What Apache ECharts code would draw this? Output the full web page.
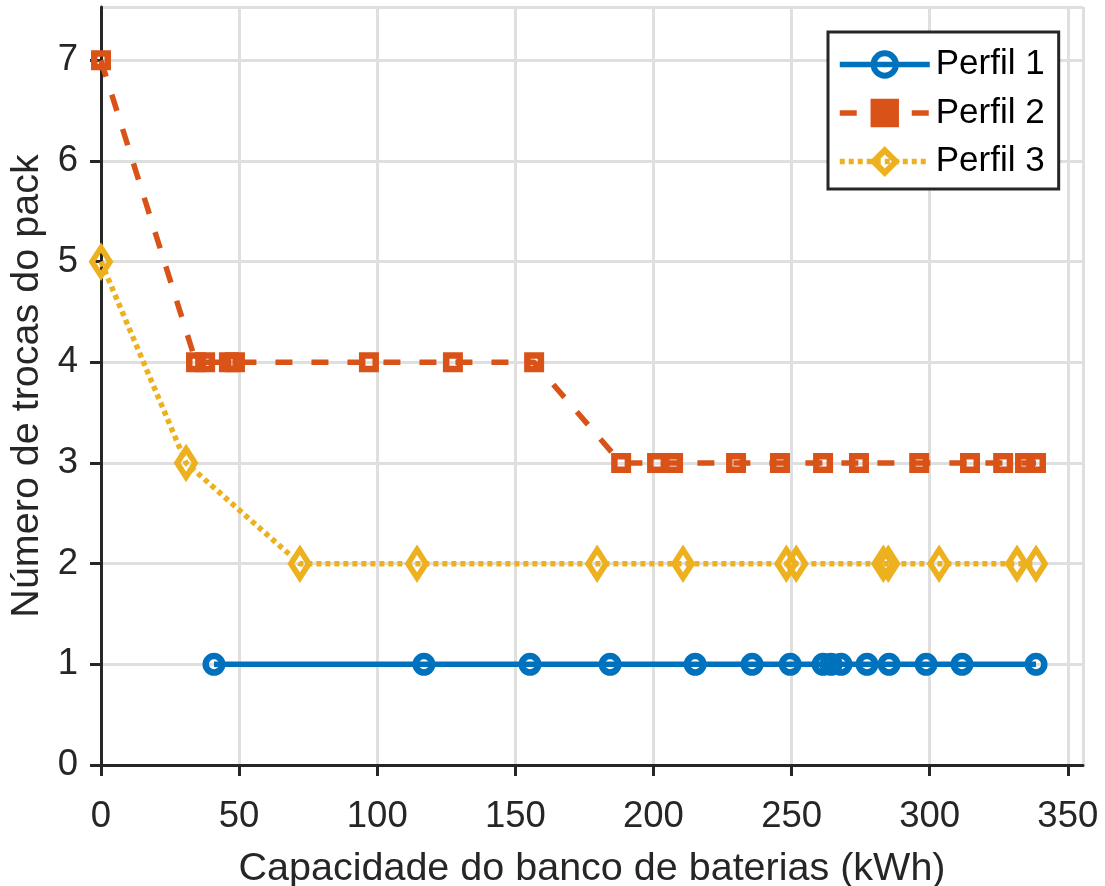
<!DOCTYPE html>
<html>
<head>
<meta charset="utf-8">
<script src="https://cdn.jsdelivr.net/npm/echarts@6/dist/echarts.min.js"></script>
<style>
  html, body { margin: 0; padding: 0; background: #fff; }
  #chart { width: 1105px; height: 886px; }
</style>
</head>
<body>
<div id="chart"></div>
<script>
// Battery bank capacity (kWh) and number of pack replacements per profile
const perfil1X = [40.9, 116.9, 155.3, 184.3, 215.1, 235.7, 249.5, 261.4, 264.3, 267.9, 277.3, 285.3, 298.7, 311.7, 338.5];
const perfil1Y = [1, 1, 1, 1, 1, 1, 1, 1, 1, 1, 1, 1, 1, 1, 1];

const perfil2X = [0, 34.4, 37.7, 46.3, 48.5, 97.0, 127.4, 156.8, 188.3, 201.3, 207.1, 229.9, 245.8, 261.4, 274.4, 296.2, 314.6, 326.6, 334.5, 338.5];
const perfil2Y = [7, 4, 4, 4, 4, 4, 4, 4, 3, 3, 3, 3, 3, 3, 3, 3, 3, 3, 3, 3];

const perfil3X = [0, 30.8, 72.0, 114.4, 179.6, 210.7, 248.1, 251.7, 283.2, 285.0, 303.4, 331.6, 338.5];
const perfil3Y = [5, 3, 2, 2, 2, 2, 2, 2, 2, 2, 2, 2, 2];

const seriesNames = ['Perfil 1', 'Perfil 2', 'Perfil 3'];
const xTicks = [0, 50, 100, 150, 200, 250, 300, 350];
const yTicks = [0, 1, 2, 3, 4, 5, 6, 7];

const xTitle = 'Capacidade do banco de baterias (kWh)';
const yTitle = 'Número de trocas do pack';

const FONT = "'Liberation Sans', Arial, Helvetica, sans-serif";
const AXIS_COLOR = '#262626';
const GRID_COLOR = '#dfdfdf';
const COLORS = ['#0072BD', '#D95319', '#EDB120'];

function pairs(xs, ys) {
  return xs.map((x, i) => [x, ys[i]]);
}

const chart = echarts.init(document.getElementById('chart'), null, { renderer: 'canvas' });

const axisCommon = {
  axisLine: { show: true, onZero: false, lineStyle: { color: AXIS_COLOR, width: 3 } },
  axisTick: { show: true, inside: false, length: 11, lineStyle: { color: AXIS_COLOR, width: 3 } },
  splitLine: { show: true, lineStyle: { color: GRID_COLOR, width: 3 } },
  nameTextStyle: { fontFamily: FONT, fontSize: 39.5, color: AXIS_COLOR }
};

const tickLabel = {
  fontFamily: FONT, fontSize: 36.5, color: AXIS_COLOR,
  showMaxLabel: false
};

chart.setOption({
  animation: false,
  backgroundColor: '#ffffff',
  grid: {
    left: 101, right: 22, top: 7, bottom: 121,
    containLabel: false,
    outerBoundsMode: 'none'
  },
  legend: {
    data: [
      { name: seriesNames[0] },
      { name: seriesNames[1], itemStyle: { color: COLORS[1] } },
      { name: seriesNames[2] }
    ],
    orient: 'vertical',
    left: 828,
    top: 32,
    padding: [15, 14, 10, 9],
    itemGap: 13.5,
    itemWidth: 90,
    itemHeight: 28,
    backgroundColor: '#ffffff',
    borderColor: AXIS_COLOR,
    borderWidth: 3,
    borderRadius: 0,
    lineStyle: { width: 5.5 },
    itemStyle: { borderWidth: 6 },
    textStyle: { fontFamily: FONT, fontSize: 35, color: '#000000', padding: [0, 0, 0, 1] }
  },
  xAxis: Object.assign({}, axisCommon, {
    type: 'value',
    min: 0,
    max: 355.5,
    interval: 50,
    name: xTitle,
    nameLocation: 'middle',
    nameGap: 84,
    axisLabel: Object.assign({}, tickLabel, {
      margin: 33,
      formatter: v => (xTicks.indexOf(v) >= 0 ? String(v) : '')
    })
  }),
  yAxis: Object.assign({}, axisCommon, {
    type: 'value',
    min: 0,
    max: 7.53,
    interval: 1,
    name: yTitle,
    nameLocation: 'middle',
    nameGap: 52,
    axisLabel: Object.assign({}, tickLabel, {
      margin: 23,
      padding: [6, 0, 0, 0],
      formatter: v => (yTicks.indexOf(v) >= 0 ? String(v) : '')
    })
  }),
  series: [
    {
      name: seriesNames[0],
      type: 'line',
      data: pairs(perfil1X, perfil1Y),
      symbol: 'circle',
      symbolSize: 16.5,
      showAllSymbol: true,
      lineStyle: { color: COLORS[0], width: 5.5, type: 'solid' },
      itemStyle: { color: 'rgba(255,255,255,0)', borderColor: COLORS[0], borderWidth: 6.5 },
      emphasis: { disabled: true }
    },
    {
      name: seriesNames[1],
      type: 'line',
      data: pairs(perfil2X, perfil2Y),
      symbol: 'rect',
      symbolSize: 13.5,
      showAllSymbol: true,
      lineStyle: { color: COLORS[1], width: 5.5, type: [17, 19] },
      itemStyle: { color: 'rgba(255,255,255,0)', borderColor: COLORS[1], borderWidth: 6.5 },
      emphasis: { disabled: true }
    },
    {
      name: seriesNames[2],
      type: 'line',
      data: pairs(perfil3X, perfil3Y),
      symbol: 'diamond',
      symbolSize: [18, 28],
      showAllSymbol: true,
      lineStyle: { color: COLORS[2], width: 5.5, type: [5, 4] },
      itemStyle: { color: 'rgba(255,255,255,0)', borderColor: COLORS[2], borderWidth: 6 },
      emphasis: { disabled: true }
    }
  ]
});
</script>
</body>
</html>
